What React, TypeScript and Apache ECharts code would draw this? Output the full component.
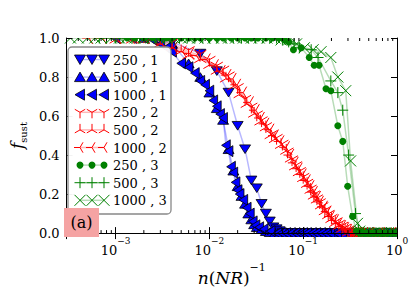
import React, { useEffect, useRef } from 'react';
import * as echarts from 'echarts';

const FONT = 'DejaVu Serif';
const BLUE = '#0000ff';
const RED = '#ff0000';
const GREEN = '#008000';

// f_sust vs n(NR)^-1, series named "N , R"
const blue250_1 = [[0.004,0.98],[0.008,0.92],[0.012,0.83],[0.016,0.72],[0.02,0.55],[0.024,0.43],[0.028,0.27],[0.032,0.23],[0.036,0.15],[0.04,0.10],[0.044,0.06],[0.048,0.03],[0.052,0.02],[0.056,0.01],[0.06,0],[0.064,0],[0.068,0],[0.072,0],[0.08,0],[0.088,0],[0.096,0],[0.104,0],[0.112,0],[0.12,0],[0.132,0],[0.144,0],[0.16,0],[0.18,0],[0.2,0],[0.22,0],[0.24,0],[0.28,0],[0.32,0],[0.4,0],[0.5,0],[0.6,0],[0.7,0],[0.8,0],[0.9,0],[1,0]];
const blue500_1 = [[0.002,1],[0.004,0.97],[0.006,0.87],[0.008,0.80],[0.01,0.72],[0.012,0.64],[0.014,0.58],[0.016,0.43],[0.018,0.32],[0.02,0.24],[0.022,0.19],[0.024,0.15],[0.026,0.10],[0.028,0.07],[0.03,0.045],[0.032,0.03],[0.036,0.02],[0.04,0.01],[0.044,0.005],[0.05,0],[0.056,0],[0.062,0],[0.07,0],[0.078,0],[0.086,0],[0.094,0],[0.104,0],[0.116,0],[0.13,0],[0.146,0],[0.164,0],[0.184,0],[0.21,0],[0.26,0],[0.34,0],[0.44,0],[0.6,0],[0.8,0],[1,0]];
const blue1000_1 = [[0.001,1],[0.0015,1],[0.002,1],[0.0025,0.99],[0.003,0.97],[0.0035,0.95],[0.004,0.93],[0.005,0.87],[0.006,0.85],[0.007,0.82],[0.008,0.78],[0.009,0.76],[0.01,0.73],[0.011,0.68],[0.012,0.65],[0.013,0.61],[0.014,0.59],[0.015,0.45],[0.016,0.42],[0.017,0.34],[0.018,0.31],[0.019,0.26],[0.02,0.22],[0.021,0.2],[0.023,0.17],[0.025,0.13],[0.027,0.1],[0.029,0.06],[0.031,0.04],[0.034,0.03],[0.038,0.02],[0.045,0.01],[0.053,0],[0.059,0],[0.066,0],[0.074,0],[0.083,0],[0.092,0],[0.1,0],[0.11,0],[0.124,0],[0.138,0],[0.155,0],[0.174,0],[0.195,0],[0.23,0],[0.3,0],[0.38,0],[0.5,0],[0.7,0],[1,0]];
const red250_2 = [[0.002,1],[0.003,0.99],[0.004,0.97],[0.006,0.93],[0.008,0.91],[0.01,0.88],[0.012,0.85],[0.014,0.83],[0.016,0.80],[0.02,0.74],[0.024,0.68],[0.028,0.64],[0.032,0.60],[0.036,0.57],[0.04,0.54],[0.046,0.50],[0.052,0.48],[0.06,0.45],[0.068,0.41],[0.076,0.37],[0.084,0.34],[0.092,0.31],[0.1,0.28],[0.11,0.25],[0.12,0.22],[0.13,0.19],[0.14,0.17],[0.15,0.15],[0.16,0.13],[0.17,0.11],[0.185,0.09],[0.2,0.07],[0.22,0.05],[0.24,0.04],[0.26,0.03],[0.28,0.02],[0.3,0.01],[0.32,0],[0.34,0],[0.36,0],[0.38,0],[0.42,0],[0.5,0],[0.6,0],[0.8,0],[1,0]];
const red500_2 = [[0.001,1],[0.0015,1],[0.002,1],[0.003,0.98],[0.004,0.96],[0.005,0.94],[0.006,0.92],[0.008,0.90],[0.01,0.87],[0.012,0.84],[0.015,0.80],[0.018,0.76],[0.021,0.72],[0.025,0.67],[0.03,0.62],[0.035,0.58],[0.04,0.55],[0.045,0.51],[0.05,0.49],[0.058,0.46],[0.066,0.43],[0.074,0.39],[0.082,0.35],[0.09,0.32],[0.1,0.29],[0.11,0.26],[0.12,0.23],[0.13,0.20],[0.14,0.18],[0.155,0.15],[0.17,0.12],[0.185,0.10],[0.2,0.08],[0.22,0.06],[0.24,0.045],[0.26,0.03],[0.28,0.02],[0.3,0.01],[0.33,0],[0.35,0],[0.37,0],[0.4,0],[0.45,0],[0.55,0],[0.7,0],[1,0]];
const red1000_2 = [[0.0005,1],[0.0007,1],[0.001,1],[0.0014,1],[0.002,1],[0.0025,0.99],[0.003,0.97],[0.004,0.95],[0.005,0.93],[0.006,0.92],[0.007,0.91],[0.009,0.89],[0.011,0.86],[0.013,0.83],[0.015,0.81],[0.017,0.79],[0.019,0.76],[0.022,0.72],[0.026,0.67],[0.03,0.63],[0.034,0.59],[0.038,0.56],[0.043,0.53],[0.048,0.50],[0.055,0.47],[0.063,0.44],[0.07,0.40],[0.078,0.36],[0.086,0.33],[0.095,0.30],[0.105,0.27],[0.115,0.24],[0.125,0.21],[0.135,0.185],[0.145,0.16],[0.16,0.135],[0.175,0.11],[0.19,0.085],[0.21,0.065],[0.23,0.05],[0.25,0.035],[0.27,0.025],[0.29,0.015],[0.31,0.005],[0.33,0],[0.345,0],[0.36,0],[0.375,0],[0.39,0],[0.43,0],[0.5,0],[0.65,0],[0.85,0],[1,0]];
const green250_3 = [[0.00133,1],[0.0016,1],[0.002,1],[0.0025,1],[0.003,1],[0.0035,1],[0.004,1],[0.005,1],[0.006,1],[0.007,1],[0.008,1],[0.01,1],[0.012,1],[0.014,1],[0.017,1],[0.02,1],[0.024,1],[0.028,1],[0.033,1],[0.04,1],[0.047,1],[0.055,1],[0.063,0.99],[0.07,0.98],[0.0787,0.94],[0.0955,0.95],[0.116,0.90],[0.131,0.86],[0.1476,0.86],[0.175,0.74],[0.197,0.73],[0.234,0.55],[0.264,0.47],[0.298,0.24],[0.336,0.085],[0.37,0.01],[0.4,0],[0.43,0],[0.46,0],[0.5,0],[0.54,0],[0.58,0],[0.63,0],[0.68,0],[0.74,0],[0.8,0],[0.86,0],[0.93,0],[1,0]];
const green500_3 = [[0.00067,1],[0.0008,1],[0.001,1],[0.0012,1],[0.0015,1],[0.0018,1],[0.0022,1],[0.0027,1],[0.0033,1],[0.004,1],[0.0048,1],[0.0058,1],[0.007,1],[0.0085,1],[0.01,1],[0.012,1],[0.015,1],[0.018,1],[0.022,1],[0.026,1],[0.031,1],[0.037,1],[0.044,1],[0.052,1],[0.06,0.99],[0.07,0.98],[0.08,0.97],[0.091,0.95],[0.1216,0.94],[0.144,0.90],[0.197,0.78],[0.234,0.72],[0.264,0.63],[0.305,0.40],[0.361,0.10],[0.39,0.02],[0.41,0],[0.44,0],[0.47,0],[0.51,0],[0.56,0],[0.61,0],[0.66,0],[0.72,0],[0.78,0],[0.85,0],[0.92,0],[1,0]];
const green1000_3 = [[0.00033,1],[0.0004,1],[0.0005,1],[0.0006,1],[0.0007,1],[0.0009,1],[0.0011,1],[0.0013,1],[0.0016,1],[0.002,1],[0.0024,1],[0.0029,1],[0.0035,1],[0.0042,1],[0.005,1],[0.006,1],[0.0075,1],[0.009,1],[0.011,1],[0.0135,1],[0.016,1],[0.019,1],[0.023,1],[0.028,1],[0.034,1],[0.041,1],[0.05,1],[0.058,0.99],[0.0697,0.99],[0.085,0.97],[0.1028,0.95],[0.1276,0.94],[0.1549,0.93],[0.197,0.90],[0.234,0.80],[0.284,0.73],[0.32,0.37],[0.379,0.05],[0.4,0.01],[0.42,0],[0.45,0],[0.48,0],[0.52,0],[0.57,0],[0.62,0],[0.67,0],[0.73,0],[0.8,0],[0.87,0],[0.94,0],[1,0]];

const seriesNames = ['250 , 1', '500 , 1', '1000 , 1', '250 , 2', '500 , 2', '1000 , 2', '250 , 3', '500 , 3', '1000 , 3'];
const seriesData = [blue250_1, blue500_1, blue1000_1, red250_2, red500_2, red1000_2, green250_3, green500_3, green1000_3];
const seriesKinds = ['tdown', 'tup', 'tleft', 'ydown', 'yup', 'yleft', 'dot', 'plus', 'cross'];
const seriesColors = [BLUE, BLUE, BLUE, RED, RED, RED, GREEN, GREEN, GREEN];
const lineColors = ['rgba(0,0,255,0.28)', 'rgba(0,0,255,0.28)', 'rgba(0,0,255,0.28)', 'rgba(255,0,0,0.28)', 'rgba(255,0,0,0.28)', 'rgba(255,0,0,0.28)', 'rgba(0,128,0,0.28)', 'rgba(0,128,0,0.28)', 'rgba(0,128,0,0.28)'];

const xMin = 3e-4;
const xMax = 1;
const minorTicks = [4e-4,5e-4,6e-4,7e-4,8e-4,9e-4,2e-3,3e-3,4e-3,5e-3,6e-3,7e-3,8e-3,9e-3,2e-2,3e-2,4e-2,5e-2,6e-2,7e-2,8e-2,9e-2,0.2,0.3,0.4,0.5,0.6,0.7,0.8,0.9];

const symbolOf: Record<string, any> = {
  tdown: { symbol: 'path://M0,0 L10,0 L5,8.66 Z', symbolSize: [11, 10], fill: true },
  tup: { symbol: 'path://M5,0 L10,8.66 L0,8.66 Z', symbolSize: [11, 10], fill: true },
  tleft: { symbol: 'path://M0,5 L8.66,0 L8.66,10 Z', symbolSize: [10, 11], fill: true },
  ydown: { symbol: 'path://M5,5 L5,10 M5,5 L0.67,2.5 M5,5 L9.33,2.5', symbolSize: 12, stroke: true },
  yup: { symbol: 'path://M5,5 L5,0 M5,5 L0.67,7.5 M5,5 L9.33,7.5', symbolSize: 12, stroke: true },
  yleft: { symbol: 'path://M5,5 L0,5 M5,5 L7.5,0.67 M5,5 L7.5,9.33', symbolSize: 12, stroke: true },
  dot: { symbol: 'circle', symbolSize: 7, dot: true },
  plus: { symbol: 'path://M0,5 L10,5 M5,0 L5,10', symbolSize: 11, stroke: true },
  cross: { symbol: 'path://M0,0 L10,10 M0,10 L10,0', symbolSize: 11, stroke: true },
};

function legendMarker(kind: string, cx: number, cy: number, color: string): any[] {
  const z = 33;
  const ln = (x1: number, y1: number, x2: number, y2: number) => ({
    type: 'line', z, shape: { x1, y1, x2, y2 }, style: { stroke: color, lineWidth: 1 },
  });
  const tri = (pts: number[][]) => ({
    type: 'polygon', z, shape: { points: pts }, style: { fill: color, stroke: '#000', lineWidth: 0.8 },
  });
  const r = 6;
  switch (kind) {
    case 'tdown': return [tri([[cx - 5.5, cy - 4.5], [cx + 5.5, cy - 4.5], [cx, cy + 5]])];
    case 'tup': return [tri([[cx, cy - 5], [cx + 5.5, cy + 4.5], [cx - 5.5, cy + 4.5]])];
    case 'tleft': return [tri([[cx - 5, cy], [cx + 4.5, cy - 5.5], [cx + 4.5, cy + 5.5]])];
    case 'ydown': return [ln(cx, cy, cx, cy + r), ln(cx, cy, cx - r * 0.866, cy - r * 0.5), ln(cx, cy, cx + r * 0.866, cy - r * 0.5)];
    case 'yup': return [ln(cx, cy, cx, cy - r), ln(cx, cy, cx - r * 0.866, cy + r * 0.5), ln(cx, cy, cx + r * 0.866, cy + r * 0.5)];
    case 'yleft': return [ln(cx, cy, cx - r, cy), ln(cx, cy, cx + r * 0.5, cy - r * 0.866), ln(cx, cy, cx + r * 0.5, cy + r * 0.866)];
    case 'dot': return [{ type: 'circle', z, shape: { cx, cy, r: 3.5 }, style: { fill: color } }];
    case 'plus': return [ln(cx - 5.5, cy, cx + 5.5, cy), ln(cx, cy - 5.5, cx, cy + 5.5)];
    case 'cross': return [ln(cx - 5.5, cy - 5.5, cx + 5.5, cy + 5.5), ln(cx - 5.5, cy + 5.5, cx + 5.5, cy - 5.5)];
  }
  return [];
}

export default function App() {
  const ref = useRef<HTMLDivElement>(null);
  useEffect(() => {
    if (!ref.current) return;
    const chart = echarts.init(ref.current, null, { renderer: 'svg' });

    const grid = { left: 62, right: 19, top: 38, bottom: 54 };
    const W = 416, H = 291;
    const gx0 = grid.left, gx1 = W - grid.right, gy0 = grid.top, gy1 = H - grid.bottom;

    const series: any[] = seriesNames.map((name, i) => {
      const s = symbolOf[seriesKinds[i]];
      const itemStyle = s.fill
        ? { color: seriesColors[i], borderColor: '#000', borderWidth: 0.8 }
        : s.dot
        ? { color: seriesColors[i], borderWidth: 0 }
        : { color: 'none', borderColor: seriesColors[i], borderWidth: 1 };
      return {
        type: 'line',
        name,
        data: seriesData[i],
        symbol: s.symbol,
        symbolSize: s.symbolSize,
        symbolKeepAspect: true,
        showAllSymbol: true,
        itemStyle,
        lineStyle: { color: lineColors[i], width: 1.5 },
        xAxisIndex: 0,
        yAxisIndex: 0,
        z: 3,
        silent: true,
      };
    });

    series.push({
      type: 'custom',
      name: 'minorTicks',
      silent: true,
      z: 12,
      clip: false,
      xAxisIndex: 0,
      yAxisIndex: 0,
      data: minorTicks.map((v) => [v, 0]),
      renderItem: (params: any, api: any) => {
        const v = api.value(0);
        const b = api.coord([v, 0]);
        const t = api.coord([v, 1]);
        return {
          type: 'group',
          children: [
            { type: 'line', shape: { x1: b[0], y1: b[1], x2: b[0], y2: b[1] - 3 }, style: { stroke: '#000', lineWidth: 1 } },
            { type: 'line', shape: { x1: t[0], y1: t[1], x2: t[0], y2: t[1] + 3 }, style: { stroke: '#000', lineWidth: 1 } },
          ],
        };
      },
    });

    const axisLine = { show: true, lineStyle: { color: '#000', width: 1 } };
    const tick = { show: true, inside: true, length: 6, lineStyle: { color: '#000', width: 1 } };

    const xLabelFormatter = (v: number) => {
      const l = Math.log10(v);
      const r = Math.round(l);
      if (Math.abs(l - r) > 1e-6) return '';
      return `{b|10}{s|${r < 0 ? '\u2212' : ''}${Math.abs(r)}}`;
    };

    const legendEls: any[] = [];
    const LX = 68, LY = 47, LW = 103, LH = 167;
    legendEls.push({
      type: 'rect', z: 30,
      shape: { x: LX, y: LY, width: LW, height: LH, r: 4 },
      style: { fill: 'rgba(255,255,255,0.95)', stroke: '#888', lineWidth: 1.3 },
    });
    const mxs = [80, 92, 104];
    seriesNames.forEach((name, i) => {
      const cy = 59.5 + i * 17.6;
      legendEls.push({
        type: 'line', z: 31,
        shape: { x1: mxs[0], y1: cy, x2: mxs[2], y2: cy },
        style: { stroke: lineColors[i], lineWidth: 1.5 },
      });
      mxs.forEach((mx) => legendMarker(seriesKinds[i], mx, cy, seriesColors[i]).forEach((e) => legendEls.push(e)));
      legendEls.push({
        type: 'text', z: 33, x: 113, y: cy + 0.5,
        style: { text: name, fontSize: 13, fontFamily: FONT, fill: '#000', align: 'left', verticalAlign: 'middle' },
      });
    });

    const masks = [
      { x: 0, y: 0, width: W, height: gy0 },
      { x: 0, y: gy1, width: W, height: H - gy1 },
      { x: 0, y: 0, width: gx0, height: H },
      { x: gx1, y: 0, width: W - gx1, height: H },
    ].map((r) => ({ type: 'rect', z: 5, shape: r, style: { fill: '#fff' } }));

    const option: any = {
      animation: false,
      backgroundColor: '#fff',
      textStyle: { fontFamily: FONT },
      grid: { ...grid, containLabel: false },
      xAxis: [
        {
          type: 'log', logBase: 10, min: xMin, max: xMax, position: 'bottom', z: 10,
          axisLine, axisTick: tick, splitLine: { show: false }, minorTick: { show: false },
          axisLabel: {
            formatter: xLabelFormatter, margin: 3, fontFamily: FONT, color: '#000',
            rich: {
              b: { fontSize: 13, fontFamily: FONT, lineHeight: 21, verticalAlign: 'bottom', color: '#000' },
              s: { fontSize: 9, fontFamily: FONT, lineHeight: 10, verticalAlign: 'top', color: '#000' },
            },
          },
          name: '{i|n}{r|(}{i|NR}{r|)}{s|\u22121}',
          nameLocation: 'middle',
          nameGap: 27,
          nameTextStyle: {
            fontFamily: FONT, color: '#000',
            rich: {
              i: { fontSize: 17, fontStyle: 'italic', fontFamily: FONT, lineHeight: 24, verticalAlign: 'bottom', color: '#000' },
              r: { fontSize: 17, fontFamily: FONT, lineHeight: 24, verticalAlign: 'bottom', color: '#000' },
              s: { fontSize: 11, fontFamily: FONT, lineHeight: 12, verticalAlign: 'top', color: '#000' },
            },
          },
        },
        {
          type: 'log', logBase: 10, min: xMin, max: xMax, position: 'top', z: 10,
          axisLine, axisTick: tick, splitLine: { show: false }, axisLabel: { show: false },
        },
      ],
      yAxis: [
        {
          type: 'value', min: 0, max: 1, interval: 0.2, position: 'left', z: 10,
          axisLine, axisTick: tick, splitLine: { show: false },
          axisLabel: { formatter: (v: number) => v.toFixed(1), fontSize: 13, fontFamily: FONT, color: '#000', margin: 7 },
          name: '{f|f}{s|sust}',
          nameLocation: 'middle',
          nameGap: 37,
          nameRotate: 90,
          nameTextStyle: {
            fontFamily: FONT, color: '#000',
            rich: {
              f: { fontSize: 17, fontStyle: 'italic', fontFamily: FONT, lineHeight: 20, verticalAlign: 'top', color: '#000' },
              s: { fontSize: 10, fontFamily: FONT, lineHeight: 11, verticalAlign: 'bottom', color: '#000' },
            },
          },
        },
        {
          type: 'value', min: 0, max: 1, interval: 0.2, position: 'right', z: 10,
          axisLine, axisTick: tick, splitLine: { show: false }, axisLabel: { show: false },
        },
      ],
      series,
      graphic: {
        elements: [
          ...masks,
          ...legendEls,
          { type: 'rect', z: 30, shape: { x: 64, y: 208, width: 35, height: 29 }, style: { fill: '#f5a3a3' } },
          {
            type: 'text', z: 31, x: 81.5, y: 222,
            style: { text: '(a)', fontSize: 16, fontFamily: FONT, fill: '#000', align: 'center', verticalAlign: 'middle' },
          },
        ],
      },
    };

    chart.setOption(option);
    return () => chart.dispose();
  }, []);

  return <div ref={ref} style={{ position: 'fixed', left: 0, top: 0, width: 416, height: 291 }} />;
}
